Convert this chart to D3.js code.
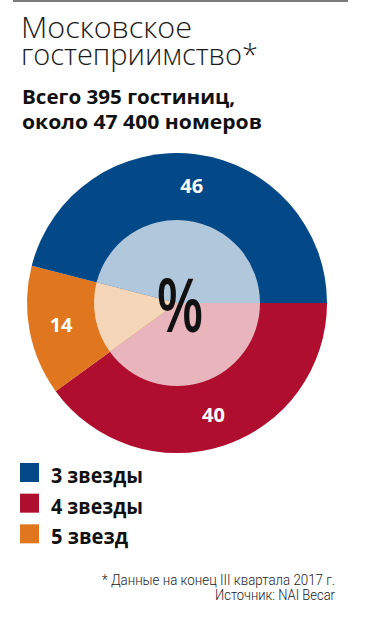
<!DOCTYPE html>
<html><head><meta charset="utf-8">
<script src="https://cdn.jsdelivr.net/npm/d3@7"></script>
<style>
html,body{margin:0;padding:0;background:#fff;}
svg{display:block;}
</style></head>
<body>
<script>
const categories = ["3 звезды", "4 звезды", "5 звезд"];
const values = [46, 40, 14];
const outerColors = ["#034887", "#b00e2e", "#e0761e"];
const innerColors = ["#b1c8dc", "#e8b5bc", "#f5d6b8"];
const title = ["Московское", "гостеприимство*"];
const subtitle = ["Всего 395 гостиниц,", "около 47 400 номеров"];
const notes = ["* Данные на конец III квартала 2017 г.", "Источник: NAI Becar"];

const W = 370, H = 627;
const svg = d3.select("body").append("svg").attr("width", W).attr("height", H);

svg.append("line").attr("x1", 13).attr("x2", 348).attr("y1", 1).attr("y2", 1)
  .attr("stroke", "#7a7a7a").attr("stroke-width", 2);

const tfont = "'Open Sans', Lato, sans-serif";
svg.append("text").attr("x", 21).attr("y", 38).text(title[0])
  .attr("font-family", tfont).attr("font-weight", 300).attr("font-size", 29)
  .attr("fill", "#1a1a1a").attr("textLength", 171).attr("lengthAdjust", "spacingAndGlyphs");
svg.append("text").attr("x", 21).attr("y", 65).text(title[1])
  .attr("font-family", tfont).attr("font-weight", 300).attr("font-size", 29)
  .attr("fill", "#1a1a1a").attr("textLength", 237).attr("lengthAdjust", "spacingAndGlyphs");

const bfont = "'Open Sans', Lato, sans-serif";
svg.append("text").attr("x", 22).attr("y", 104).text(subtitle[0])
  .attr("font-family", bfont).attr("font-weight", 700).attr("font-size", 20)
  .attr("fill", "#111").attr("textLength", 213).attr("lengthAdjust", "spacingAndGlyphs");
svg.append("text").attr("x", 22).attr("y", 129).text(subtitle[1])
  .attr("font-family", bfont).attr("font-weight", 700).attr("font-size", 20)
  .attr("fill", "#111").attr("textLength", 240).attr("lengthAdjust", "spacingAndGlyphs");

// Pie
const cx = 177, cy = 303, R = 150, r = 83;
const data = categories.map((c, i) => ({cat: c, value: values[i], i}));
const pie = d3.pie().value(d => d.value).sort(null)
  .startAngle(Math.PI / 2).endAngle(Math.PI / 2 + 2 * Math.PI);
// order clockwise from 3 o'clock: 4 звезды, 5 звезд, 3 звезды
const order = [1, 2, 0];
const arcs = pie(order.map(k => data[k]));
const g = svg.append("g").attr("transform", `translate(${cx},${cy})`);
const outerArc = d3.arc().innerRadius(0).outerRadius(R);
const innerArc = d3.arc().innerRadius(0).outerRadius(r);
g.selectAll("path.o").data(arcs).join("path").attr("class", "o")
  .attr("d", outerArc).attr("fill", d => outerColors[d.data.i]);
g.selectAll("path.in").data(arcs).join("path").attr("class", "in")
  .attr("d", innerArc).attr("fill", d => innerColors[d.data.i]);
const labelArc = d3.arc().innerRadius(118).outerRadius(118);
g.selectAll("text.v").data(arcs).join("text").attr("class", "v")
  .attr("transform", d => `translate(${labelArc.centroid(d)})`)
  .attr("text-anchor", "middle").attr("dy", "0.36em")
  .attr("font-family", bfont).attr("font-weight", 700).attr("font-size", 20)
  .attr("fill", "#fff").text(d => d.data.value);
g.append("text").attr("x", 3).attr("y", 29).attr("text-anchor", "middle")
  .attr("font-family", "'Open Sans', sans-serif").attr("font-weight", 600)
  .attr("font-size", 74).attr("fill", "#111").text("%")
  .attr("textLength", 47).attr("lengthAdjust", "spacingAndGlyphs");

// Legend
const legend = svg.append("g");
const ly = d3.scaleBand().domain(categories).range([462, 554]).paddingInner(0);
const legendW = [92, 92, 77];
categories.forEach((c, i) => {
  const y0 = ly(c);
  legend.append("rect").attr("x", 20).attr("y", y0 + 1).attr("width", 19).attr("height", 19)
    .attr("fill", outerColors[i]);
  legend.append("text").attr("x", 51).attr("y", y0 + 21).text(c)
    .attr("font-family", bfont).attr("font-weight", 700).attr("font-size", 21)
    .attr("fill", "#111").attr("textLength", legendW[i]).attr("lengthAdjust", "spacingAndGlyphs");
});

const nfont = "'Liberation Sans Narrow', 'Roboto', sans-serif";
svg.append("text").attr("x", 335).attr("y", 585).attr("text-anchor", "end").text(notes[0])
  .attr("font-family", nfont).attr("font-weight", 300).attr("font-size", 14)
  .attr("fill", "#222").attr("textLength", 233).attr("lengthAdjust", "spacingAndGlyphs");
svg.append("text").attr("x", 335).attr("y", 600).attr("text-anchor", "end").text(notes[1])
  .attr("font-family", nfont).attr("font-weight", 300).attr("font-size", 14)
  .attr("fill", "#222").attr("textLength", 120).attr("lengthAdjust", "spacingAndGlyphs");
</script>
</body></html>
